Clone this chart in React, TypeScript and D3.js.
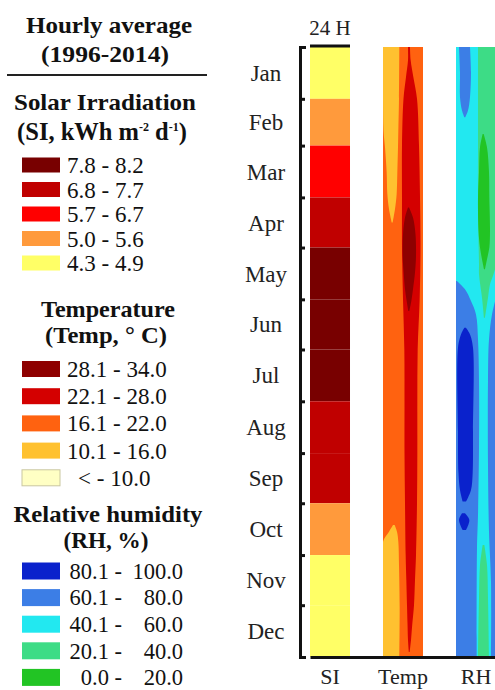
import React, { useEffect, useRef } from 'react';
import * as d3 from 'd3';

const months = ['Jan', 'Feb', 'Mar', 'Apr', 'May', 'Jun', 'Jul', 'Aug', 'Sep', 'Oct', 'Nov', 'Dec'];
const columns = ['SI', 'Temp', 'RH'];

// monthly mean solar irradiation (kWh m-2 d-1)
const siValues = [4.6, 5.3, 6.2, 7.3, 8.0, 8.1, 7.9, 7.4, 7.1, 5.4, 4.7, 4.5];
const siBreaks = [5.0, 5.7, 6.8, 7.8];
const siColors = ['#ffff66', '#ff9a3c', '#ff0000', '#c00000', '#780000'];
const siLabels = ['4.3 - 4.9', '5.0 - 5.6', '5.7 - 6.7', '6.8 - 7.7', '7.8 - 8.2'];

const tempColors = ['#ffffc4', '#ffc130', '#ff6210', '#d40000', '#8e0000'];
const tempLabels = ['< - 10.0', '10.1 - 16.0', '16.1 - 22.0', '22.1 - 28.0', '28.1 - 34.0'];

const rhColors = ['#22c424', '#3ddc86', '#22e8f0', '#3c7ee6', '#0a22cc'];
const rhLow = ['0.0', '20.1', '40.1', '60.1', '80.1'];
const rhHigh = ['20.0', '40.0', '60.0', '80.0', '100.0'];

// contour zones: [day of year, from hour, to hour]
const tempCoolSpring = [[0, 0, 9.8], [31, 0, 9.6], [50, 0.3, 9.2], [60, 1.2, 9.0], [75, 2.2, 8.6], [88, 2.6, 8.2], [97, 3.6, 7.2], [105, 5.2, 5.8]];
const tempCoolAutumn = [[286, 6.0, 7.0], [290, 3.6, 8.4], [296, 0, 9.2], [310, 0, 9.6], [335, 0, 10.0], [365, 0, 9.8]];
const tempWarm = [[0, 15.0, 16.2], [8, 15.0, 16.6], [18, 13.8, 18.2], [31, 12.3, 20.4], [59, 11.4, 21.6], [90, 11.4, 22.2], [120, 11.4, 22.5], [151, 12.0, 22.0], [181, 12.8, 20.8], [212, 12.9, 20.6], [243, 12.9, 20.6], [273, 13.2, 20.4], [304, 13.6, 19.8], [319, 14.0, 19.2], [334, 14.4, 18.6], [345, 14.7, 17.6], [355, 15.0, 16.8], [362, 15.5, 16.0]];
const tempHot = [[96, 15.0, 15.6], [102, 13.2, 18.0], [112, 12.0, 19.5], [125, 11.8, 19.8], [135, 12.4, 19.2], [145, 13.2, 18.0], [152, 14.2, 17.0], [158, 15.2, 15.8]];

const rhDrySpring = [[0, 13.2, 24], [60, 13.2, 24], [90, 13.2, 24], [120, 13.6, 24], [130, 13.8, 24], [136, 13.8, 22.5], [142, 14.5, 20.4], [150, 15.6, 19.2], [162, 16.8, 17.4]];
const rhDryAutumn = [[298, 16.0, 17.0], [310, 14.4, 18.6], [330, 13.8, 19.2], [365, 13.2, 19.8]];
const rhVeryDry = [[52, 16.0, 16.6], [60, 14.4, 18.6], [75, 13.8, 19.8], [90, 13.2, 20.0], [110, 13.5, 20.4], [120, 14.4, 20.0], [127, 15.6, 18.6], [133, 16.8, 17.4]];
const rhHumidJan = [[0, 1.8, 8.4], [15, 2.4, 9.0], [30, 2.4, 8.4], [38, 3.6, 7.2], [42, 5.0, 5.6]];
const rhHumidLeft = [[140, 0, 0.5], [145, 0, 5.4], [152, 0, 9.0], [160, 0, 12.0], [175, 0, 13.2], [200, 0, 13.8], [240, 0, 13.8], [280, 0, 13.2], [300, 0, 12.6], [365, 0, 12.4]];
const rhHumidRight = [[150, 24, 24], [160, 21.6, 24], [175, 19.8, 24], [200, 19.2, 24], [250, 19.2, 24], [290, 19.8, 24], [320, 21.0, 24], [365, 21.0, 24]];
const rhWet = [[168, 5.0, 6.0], [172, 3.0, 8.4], [180, 1.2, 10.2], [230, 1.2, 10.2], [255, 1.5, 10.0], [265, 2.4, 9.0], [272, 4.0, 6.0]];
const rhWetOct = [[279, 3.6, 5.4], [283, 1.8, 8.0], [289, 4.0, 6.0]];

const tempBase = 2;
const tempZones = [
  { cls: 1, pts: tempCoolSpring },
  { cls: 1, pts: tempCoolAutumn },
  { cls: 3, pts: tempWarm },
  { cls: 4, pts: tempHot },
];
const rhBase = 2;
const rhZones = [
  { cls: 1, pts: rhDrySpring },
  { cls: 1, pts: rhDryAutumn },
  { cls: 0, pts: rhVeryDry },
  { cls: 3, pts: rhHumidJan },
  { cls: 3, pts: rhHumidLeft },
  { cls: 3, pts: rhHumidRight },
  { cls: 4, pts: rhWet },
  { cls: 4, pts: rhWetOct },
];

const serif = "'Liberation Serif', 'Times New Roman', serif";

const App = () => {
  const svgRef = useRef<SVGSVGElement>(null);

  useEffect(() => {
    const svg = d3.select(svgRef.current);
    svg.selectAll('*').remove();

    const top = 47;
    const bottom = 657;
    const year0 = new Date(2001, 0, 1);
    const y = d3.scaleTime().domain([year0, new Date(2002, 0, 1)]).range([top, bottom]);
    const dayY = (d: number) => y(d3.timeDay.offset(year0, d));
    const x = d3.scaleBand().domain(columns).range([310, 496]).paddingInner(0.452).paddingOuter(0);
    const bw = x.bandwidth();
    const siColor = d3.scaleThreshold<number, string>().domain(siBreaks).range(siColors);

    // ---- heat columns
    const siX = x('SI')!;
    svg.append('g')
      .selectAll('rect')
      .data(months)
      .join('rect')
      .attr('x', siX)
      .attr('width', bw)
      .attr('y', (_, i) => y(new Date(2001, i, 1)))
      .attr('height', (_, i) => y(new Date(2001, i + 1, 1)) - y(new Date(2001, i, 1)))
      .attr('fill', (_, i) => siColor(siValues[i]));

    const drawContours = (col: string, base: number, zones: { cls: number; pts: number[][] }[], colors: string[]) => {
      const x0 = x(col)!;
      const hx = d3.scaleLinear().domain([0, 24]).range([x0, x0 + bw]);
      const clipId = 'clip-' + col;
      svg.append('clipPath').attr('id', clipId)
        .append('rect').attr('x', x0).attr('y', top).attr('width', bw).attr('height', bottom - top);
      const g = svg.append('g').attr('clip-path', `url(#${clipId})`);
      g.append('rect').attr('x', x0).attr('y', top).attr('width', bw).attr('height', bottom - top).attr('fill', colors[base]);
      const area = d3.area<number[]>()
        .y((d) => dayY(d[0]))
        .x0((d) => hx(d[1]))
        .x1((d) => hx(d[2]))
        .curve(d3.curveCatmullRom);
      zones.forEach((z) => {
        g.append('path').attr('d', area(z.pts)).attr('fill', colors[z.cls]);
      });
    };
    drawContours('Temp', tempBase, tempZones, tempColors);
    drawContours('RH', rhBase, rhZones, rhColors);

    // ---- axes
    const yAxis = svg.append('g')
      .attr('transform', 'translate(300,0)')
      .call(d3.axisRight(y).ticks(d3.timeMonth.every(1)).tickSize(5).tickSizeOuter(6).tickFormat(() => ''));
    yAxis.selectAll('path, line').attr('stroke', '#111').attr('stroke-width', 3);

    svg.append('g')
      .selectAll('text')
      .data(months)
      .join('text')
      .attr('x', 266)
      .attr('y', (_, i) => (y(new Date(2001, i, 1)) + y(new Date(2001, i + 1, 1))) / 2)
      .attr('dy', '0.35em')
      .attr('text-anchor', 'middle')
      .attr('font-family', serif)
      .attr('font-size', 23)
      .attr('fill', '#222')
      .text((d) => d);

    const xAxis = svg.append('g')
      .attr('transform', `translate(0,${bottom})`)
      .call(d3.axisBottom(x).tickSize(0).tickSizeOuter(0).tickPadding(11));
    xAxis.select('.domain').attr('stroke', '#111').attr('stroke-width', 3);
    xAxis.selectAll('text').attr('font-family', serif).attr('font-size', 22).attr('fill', '#222');

    // 24 hour marker
    svg.append('line')
      .attr('x1', siX).attr('x2', siX + bw)
      .attr('y1', top - 1).attr('y2', top - 1)
      .attr('stroke', '#111').attr('stroke-width', 3);
    svg.append('text')
      .attr('x', siX + bw / 2).attr('y', 35)
      .attr('text-anchor', 'middle')
      .attr('font-family', serif).attr('font-size', 21).attr('fill', '#222')
      .text('24 H');

    // ---- legend
    const lg = svg.append('g').attr('font-family', serif).attr('fill', '#111');
    const title = (txt: string, cx: number, yy: number, len: number) =>
      lg.append('text').attr('x', cx).attr('y', yy).attr('text-anchor', 'middle')
        .attr('font-weight', 'bold').attr('font-size', 23)
        .attr('textLength', len).attr('lengthAdjust', 'spacingAndGlyphs').text(txt);

    title('Hourly average', 109, 33, 166);
    title('(1996-2014)', 105, 62, 128);
    lg.append('line').attr('x1', 7).attr('x2', 207).attr('y1', 75).attr('y2', 75)
      .attr('stroke', '#222').attr('stroke-width', 2);

    title('Solar Irradiation', 105, 110, 182);
    const siTitle = lg.append('text').attr('x', 102).attr('y', 140).attr('text-anchor', 'middle')
      .attr('font-weight', 'bold').attr('font-size', 24.5);
    siTitle.append('tspan').text('(SI, kWh m');
    siTitle.append('tspan').attr('dy', -9).attr('font-size', 12).text('-2');
    siTitle.append('tspan').attr('dy', 9).text(' d');
    siTitle.append('tspan').attr('dy', -9).attr('font-size', 12).text('-1');
    siTitle.append('tspan').attr('dy', 9).text(')');

    const rows = (labels: string[], colors: string[], y0: number, step: number, h: number) => {
      const order = d3.range(colors.length).reverse();
      order.forEach((c, i) => {
        const cy = y0 + i * step;
        lg.append('rect').attr('x', 22).attr('y', cy - h / 2).attr('width', 38).attr('height', h)
          .attr('fill', colors[c])
          .attr('stroke', c === 0 && colors === tempColors ? '#c9c7a0' : 'none');
        if (labels.length) {
          lg.append('text').attr('x', c === 0 && colors === tempColors ? 78 : 67).attr('y', cy).attr('dy', '0.35em')
            .attr('font-size', 23).text(labels[c]);
        }
      });
    };

    rows(siLabels, siColors, 165, 24.5, 15);

    title('Temperature', 108, 317, 134);
    title('(Temp, \u00B0 C)', 106, 343, 122);
    rows(tempLabels, tempColors, 369, 27.2, 16);

    title('Relative humidity', 108, 522, 189);
    title('(RH, %)', 106, 548, 85);
    rows([], rhColors, 571, 26.6, 17);
    d3.range(rhColors.length).reverse().forEach((c, i) => {
      const cy = 571 + i * 26.6;
      lg.append('text').attr('x', 122).attr('y', cy).attr('dy', '0.35em').attr('text-anchor', 'end')
        .attr('font-size', 22.5).text(rhLow[c] + ' -');
      lg.append('text').attr('x', 183).attr('y', cy).attr('dy', '0.35em').attr('text-anchor', 'end')
        .attr('font-size', 22.5).text(rhHigh[c]);
    });
  }, []);

  return (
    <svg
      ref={svgRef}
      width={495}
      height={690}
      style={{ position: 'absolute', left: 0, top: 0, background: '#fff' }}
    />
  );
};

export default App;
